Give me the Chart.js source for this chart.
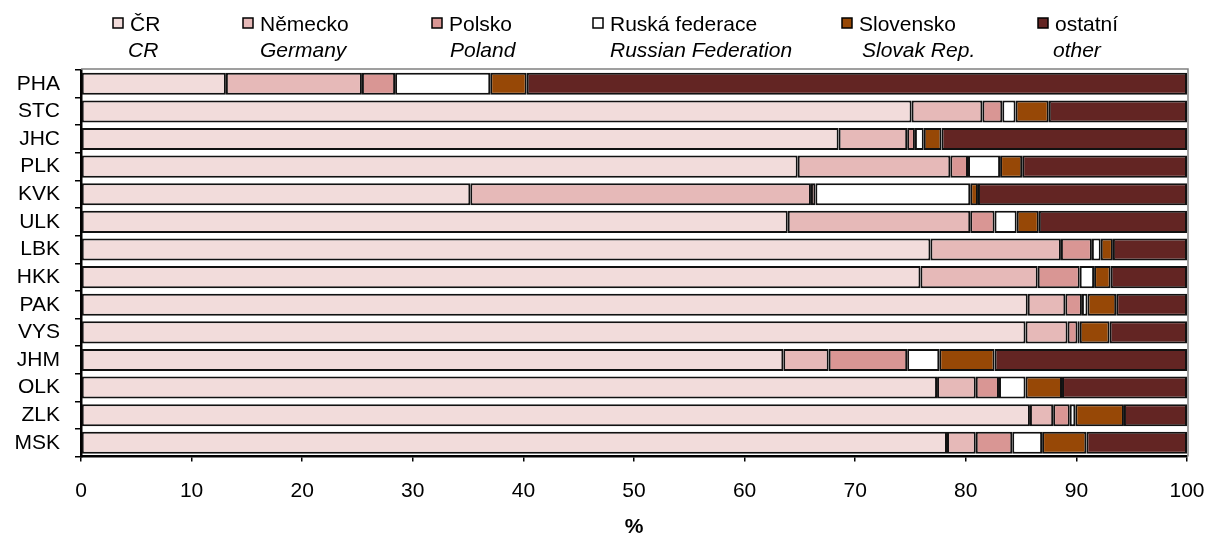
<!DOCTYPE html>
<html lang="cs">
<head>
  <meta charset="UTF-8">
  <title>Struktura hostů podle zemí</title>
  <script src="https://cdn.jsdelivr.net/npm/chart.js"></script>
  <style>
    body { margin: 0; background: #ffffff; }
    canvas { display: block; }
  </style>
</head>
<body>
  <canvas id="chart" width="1207" height="533"></canvas>

  <script>
    const regions = ['PHA', 'STC', 'JHC', 'PLK', 'KVK', 'ULK', 'LBK', 'HKK', 'PAK', 'VYS', 'JHM', 'OLK', 'ZLK', 'MSK'];

    const labelsCz = ['ČR', 'Německo', 'Polsko', 'Ruská federace', 'Slovensko', 'ostatní'];
    const labelsEn = ['CR', 'Germany', 'Poland', 'Russian Federation', 'Slovak Rep.', 'other'];

    // shares in % per region
    const cr        = [13.1, 75.1, 68.5, 64.8, 35.2, 63.9, 76.8, 75.9, 85.6, 85.4, 63.5, 77.4, 85.8, 78.3];
    const germany   = [12.3,  6.4,  6.2, 13.8, 30.8, 16.5, 11.8, 10.6,  3.4,  3.8,  4.1,  3.5,  2.1,  2.6];
    const poland    = [ 3.0,  1.8,  0.7,  1.6,  0.4,  2.2,  2.8,  3.8,  1.5,  0.9,  7.1,  2.1,  1.5,  3.3];
    const russia    = [ 8.6,  1.2,  0.8,  2.9, 14.0,  2.0,  0.8,  1.3,  0.5,  0.2,  2.9,  2.4,  0.5,  2.7];
    const slovakia  = [ 3.3,  3.0,  1.6,  2.0,  0.7,  2.0,  1.1,  1.5,  2.6,  2.7,  5.0,  3.3,  4.4,  4.0];
    const other     = [59.7, 12.5, 22.2, 14.9, 18.9, 13.4,  6.7,  6.9,  6.4,  7.0, 17.4, 11.3,  5.7,  9.1];

    const xTicks = [0, 10, 20, 30, 40, 50, 60, 70, 80, 90, 100];

    const colors = ['#f2dcdb', '#e6b9b8', '#d99694', '#ffffff', '#974806', '#632523'];
    const series = [cr, germany, poland, russia, slovakia, other];

    const FONT = '"Liberation Sans", Arial, sans-serif';

    // two-line legend (Czech + italic English) above the plot
    const twoLineLegend = {
      id: 'twoLineLegend',
      afterDraw(chart, args, opts) {
        const ctx = chart.ctx;
        ctx.save();
        chart.data.datasets.forEach((ds, i) => {
          const x = opts.boxX[i];
          ctx.fillStyle = ds.backgroundColor;
          ctx.fillRect(x, 18, 10, 10);
          ctx.strokeStyle = '#000';
          ctx.lineWidth = 1.5;
          ctx.strokeRect(x, 18, 10, 10);
          ctx.fillStyle = '#000';
          ctx.textBaseline = 'alphabetic';
          ctx.textAlign = 'left';
          ctx.font = '21px ' + FONT;
          ctx.fillText(ds.label, x + 17, 31);
          ctx.font = 'italic 21px ' + FONT;
          ctx.fillText(labelsEn[i], opts.enX[i], 57);
        });
        // plot frame (top / right)
        const a = chart.chartArea;
        ctx.strokeStyle = '#808080';
        ctx.lineWidth = 1.5;
        ctx.beginPath();
        ctx.moveTo(a.left, a.top - 1);
        ctx.lineTo(a.right + 1, a.top - 1);
        ctx.lineTo(a.right + 1, a.bottom);
        ctx.stroke();
        ctx.restore();
      }
    };

    new Chart(document.getElementById('chart'), {
      type: 'bar',
      data: {
        labels: regions,
        datasets: series.map((values, i) => ({
          label: labelsCz[i],
          data: values,
          backgroundColor: colors[i],
          borderColor: '#111',
          borderWidth: 2,
          borderSkipped: false,
          barPercentage: 0.8,
          categoryPercentage: 1.0
        }))
      },
      options: {
        indexAxis: 'y',
        responsive: false,
        animation: false,
        layout: { padding: { top: 70, right: 20, left: 0, bottom: 0 } },
        scales: {
          x: {
            stacked: true,
            min: 0,
            max: 100,
            afterBuildTicks: axis => { axis.ticks = xTicks.map(v => ({ value: v })); },
            afterFit: axis => { axis.paddingLeft = 0; axis.paddingRight = 0; },
            ticks: { color: '#000', font: { size: 21, family: FONT }, padding: 17, maxRotation: 0 },
            grid: { drawOnChartArea: false, drawTicks: true, tickLength: 5, color: '#000', lineWidth: 1.5 },
            border: { color: '#000', width: 2.5 },
            title: { display: true, text: '%', color: '#000', font: { size: 21, weight: 'bold', family: FONT }, padding: { top: -6, bottom: -7 } }
          },
          y: {
            stacked: true,
            afterFit: axis => { axis.width = 81; },
            ticks: { color: '#000', font: { size: 21, family: FONT }, padding: 15, autoSkip: false },
            grid: { drawOnChartArea: false, drawTicks: true, tickLength: 6, color: '#000', lineWidth: 1.5 },
            border: { color: '#000', width: 2.5 }
          }
        },
        plugins: {
          legend: { display: false },
          tooltip: { enabled: false },
          twoLineLegend: {
            boxX: [113, 243, 432, 593, 842, 1038],
            enX: [128, 260, 450, 610, 862, 1053]
          }
        }
      },
      plugins: [twoLineLegend]
    });
  </script>
</body>
</html>
